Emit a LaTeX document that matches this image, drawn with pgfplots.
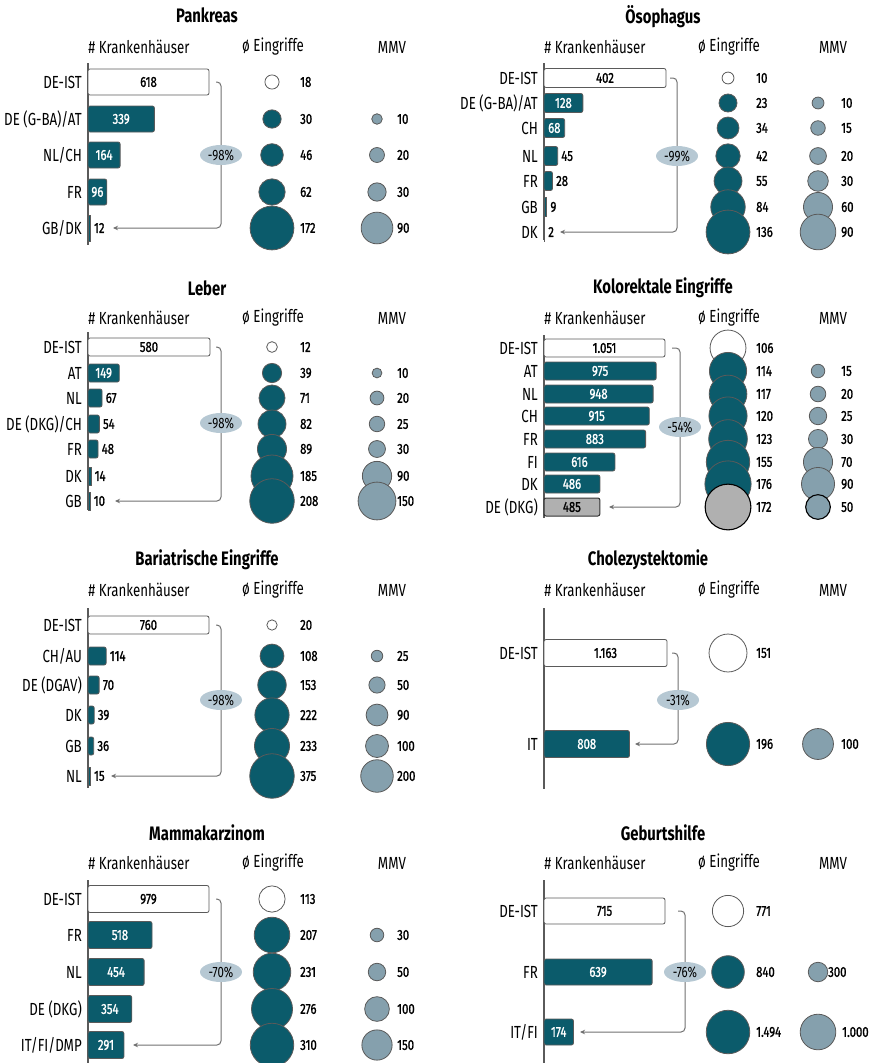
\documentclass[border=0pt]{standalone}
\usepackage{pgfplots}
\pgfplotsset{compat=1.18}
\usepackage{pgfplotstable}
\usepackage{fontspec}
\setmainfont{Fira Sans}[FakeStretch=0.76]
\newfontfamily\valfam{Fira Sans}[FakeStretch=0.78, FakeBold=1.2]
\usetikzlibrary{arrows.meta,shapes.geometric}
\definecolor{tealc}{HTML}{0B5B6B}
\definecolor{mmvc}{HTML}{85A0AD}
\definecolor{ellc}{HTML}{B6C8D3}
\definecolor{bordc}{HTML}{5A5A5A}
\definecolor{greyc}{HTML}{B0B0B0}
\definecolor{arrc}{HTML}{707070}
\newcommand\ttl{\fontsize{19.5bp}{20bp}\selectfont\bfseries}
\newcommand\lbl{\fontsize{17.5bp}{18bp}\selectfont}
\newcommand\val{\valfam\fontsize{14.5bp}{15bp}\selectfont}
\newcommand\pctf{\fontsize{15bp}{15bp}\selectfont}

\pgfplotsset{
 panel/.style={width=877bp, height=1063bp, scale only axis, ymin=0, ymax=1063, y dir=reverse,
   hide axis, clip=false, at={(0,0)}, anchor=south west, unbounded coords=discard},
 lbls/.style={only marks, mark=none, nodes near coords, point meta=explicit symbolic,
   every node near coord/.append style={inner sep=0pt, #1}},
 circ/.style n args={5}{scatter, only marks, mark=*, line width=#5,
   scatter/use mapped color={draw=#2, fill=#1},
   visualization depends on={#3*sqrt(\thisrow{#4}) \as \rad},
   scatter/@pre marker code/.append style={/tikz/mark size=\rad}},
 brk/.style={arrc, line width=1bp, rounded corners=4bp, -{Stealth[length=5bp,width=4.5bp]}},
 vline/.style={bordc, line width=1.1bp},
}
\newcommand\pct[3]{\node[ellipse, fill=ellc, inner sep=0pt, minimum width=42bp, minimum height=20bp, font=\pctf] at (axis cs:#1,#2) {#3};}
\newcommand\heads[5]{%
 \node[font=\ttl] at (axis cs:#1,#2) {#5};
 \node[font=\lbl] at (axis cs:51,#3) {\# Krankenhäuser};
 \node[font=\lbl] at (axis cs:185,#3) {ø Eingriffe};
 \node[font=\lbl] at (axis cs:#4,#3) {MMV};}

% #1 table, #2 axis opts, #3 bar scale, #4 radius factor, #5 bar height, #6 mmv x, #7 mmv label x, #8 extras
\newcommand\panel[8]{%
\begin{axis}[panel,#2]
#8
\addplot[xbar, bar shift=0pt, bar width=#5, draw=bordc, line width=0.8bp, fill=white, rounded corners=2bp,
  restrict expr to domain={\thisrow{t}}{0:0}] table[x expr=\thisrow{n}*#3, y=y]{#1};
\addplot[xbar, bar shift=0pt, bar width=#5, draw=bordc, line width=0.8bp, fill=tealc, rounded corners=2bp,
  restrict expr to domain={\thisrow{t}+10*(\thisrow{n}*#3<5)}{1:1}] table[x expr=\thisrow{n}*#3, y=y]{#1};
\addplot[xbar, bar shift=0pt, bar width=#5, draw=bordc, line width=0.8bp, fill=tealc,
  restrict expr to domain={\thisrow{t}+10*(\thisrow{n}*#3<5)}{11:11}] table[x expr=\thisrow{n}*#3, y=y]{#1};
\addplot[xbar, bar shift=0pt, bar width=#5, draw=black!80, line width=1bp, fill=greyc, rounded corners=2bp,
  restrict expr to domain={\thisrow{t}}{2:2}] table[x expr=\thisrow{n}*#3, y=y]{#1};
\addplot[lbls={anchor=center, text=black, font=\val}, restrict expr to domain={\thisrow{lc}}{0:0}]
  table[x expr=\thisrow{n}*#3/2, y=y, meta=nl]{#1};
\addplot[lbls={anchor=center, text=white, font=\val}, restrict expr to domain={\thisrow{lc}}{1:1}]
  table[x expr=\thisrow{n}*#3/2, y=y, meta=nl]{#1};
\addplot[lbls={anchor=west, text=black, font=\val}, restrict expr to domain={\thisrow{lc}}{2:2}]
  table[x expr=\thisrow{n}*#3+3.5, y=y, meta=nl]{#1};
\addplot[lbls={anchor=east, text=black, font=\lbl}] table[x expr=-6, y=y, meta=lab]{#1};
\addplot[circ={white}{bordc}{#4}{e}{0.8bp}, restrict expr to domain={\thisrow{t}}{0:0}] table[x expr=184, y=y]{#1};
\addplot[circ={tealc}{bordc}{#4}{e}{0.8bp}, restrict expr to domain={\thisrow{t}}{1:1}] table[x expr=184, y=y]{#1};
\addplot[circ={greyc}{black}{#4}{e}{1.1bp}, restrict expr to domain={\thisrow{t}}{2:2}] table[x expr=184, y=y]{#1};
\addplot[lbls={anchor=west, text=black, font=\val}] table[x expr=212, y=y, meta=el]{#1};
\addplot[circ={mmvc}{bordc}{#4}{m}{0.8bp}, restrict expr to domain={\thisrow{mt}}{1:1}] table[x expr=#6, y=y]{#1};
\addplot[circ={mmvc}{black}{#4}{m}{1.1bp}, restrict expr to domain={\thisrow{mt}}{2:2}] table[x expr=#6, y=y]{#1};
\addplot[lbls={anchor=west, text=black, font=\val}, restrict expr to domain={\thisrow{mt}}{1:2}]
  table[x expr={#7}, y=y, meta=ml]{#1};
\end{axis}}

\pgfplotstableread[row sep=\\]{
lab y n nl lc t e el m ml mt\\
DE-IST 82 618 618 0 0 18 18 0 {} 0\\
{DE (G-BA)/AT} 119 339 339 1 1 30 30 10 10 1\\
NL/CH 155 164 164 1 1 46 46 20 20 1\\
FR 192 96 96 1 1 62 62 30 30 1\\
GB/DK 228 12 12 2 1 172 172 90 90 1\\
}\tPank
\pgfplotstableread[row sep=\\]{
lab y n nl lc t e el m ml mt\\
DE-IST 78 402 402 0 0 10 10 0 {} 0\\
{DE (G-BA)/AT} 103 128 128 1 1 23 23 10 10 1\\
CH 128 68 68 1 1 34 34 15 15 1\\
NL 156 45 45 2 1 42 42 20 20 1\\
FR 181 28 28 2 1 55 55 30 30 1\\
GB 207 9 9 2 1 84 84 60 60 1\\
DK 232 2 2 2 1 136 136 90 90 1\\
}\tOeso
\pgfplotstableread[row sep=\\]{
lab y n nl lc t e el m ml mt\\
DE-IST 347 580 580 0 0 12 12 0 {} 0\\
AT 373 149 149 1 1 39 39 10 10 1\\
NL 398 67 67 2 1 71 71 20 20 1\\
{DE (DKG)/CH} 424 54 54 2 1 82 82 25 25 1\\
FR 449 48 48 2 1 89 89 30 30 1\\
DK 476 14 14 2 1 185 185 90 90 1\\
GB 501 10 10 2 1 208 208 150 150 1\\
}\tLeber
\pgfplotstableread[row sep=\\]{
lab y n nl lc t e el m ml mt\\
DE-IST 348 1051 1.051 0 0 106 106 0 {} 0\\
AT 371 975 975 1 1 114 114 15 15 1\\
NL 394 948 948 1 1 117 117 20 20 1\\
CH 416 915 915 1 1 120 120 25 25 1\\
FR 439 883 883 1 1 123 123 30 30 1\\
FI 462 616 616 1 1 155 155 70 70 1\\
DK 484 486 486 1 1 176 176 90 90 1\\
{DE (DKG)} 507 485 485 0 2 172 172 50 50 2\\
}\tKolo
\pgfplotstableread[row sep=\\]{
lab y n nl lc t e el m ml mt\\
DE-IST 625 760 760 0 0 20 20 0 {} 0\\
CH/AU 656 114 114 2 1 108 108 25 25 1\\
{DE (DGAV)} 685 70 70 2 1 153 153 50 50 1\\
DK 715 39 39 2 1 222 222 90 90 1\\
GB 746 36 36 2 1 233 233 100 100 1\\
NL 776 15 15 2 1 375 375 200 200 1\\
}\tBari
\pgfplotstableread[row sep=\\]{
lab y n nl lc t e el m ml mt\\
DE-IST 653 1163 1.163 0 0 151 151 0 {} 0\\
IT 744 808 808 1 1 196 196 100 100 1\\
}\tChol
\pgfplotstableread[row sep=\\]{
lab y n nl lc t e el m ml mt\\
DE-IST 899 979 979 0 0 113 113 0 {} 0\\
FR 935 518 518 1 1 207 207 30 30 1\\
NL 972 454 454 1 1 231 231 50 50 1\\
{DE (DKG)} 1009 354 354 1 1 276 276 100 100 1\\
IT/FI/DMP 1045 291 291 1 1 310 310 150 150 1\\
}\tMamma
\pgfplotstableread[row sep=\\]{
lab y n nl lc t e el m ml mt\\
DE-IST 911 715 715 0 0 771 771 0 {} 0\\
FR 972 639 639 1 1 840 840 300 300 1\\
IT/FI 1032 174 174 1 1 1494 1.494 1000 1.000 1\\
}\tGeb

\begin{document}
\begin{tikzpicture}
\useasboundingbox (0,0) rectangle (877bp,1063bp);
% Pankreas
\panel{\tPank}{xmin=-88,xmax=789}{0.1958}{1.677}{26}{289}{309}{%
 \heads{119}{15}{47}{304}{Pankreas}
 \addplot[vline] coordinates {(0,63) (0,245)};
 \addplot[brk] coordinates {(128,82) (133,82) (133,228) (25,228)};
 \pct{133}{155}{-98\%}}
% Oesophagus
\panel{\tOeso}{xmin=-544,xmax=333}{0.3035}{1.886}{19}{274}{297}{%
 \heads{119}{17}{47}{289}{Ösophagus}
 \addplot[vline] coordinates {(0,63) (0,240)};
 \addplot[brk] coordinates {(126,78) (133,78) (133,232) (16,232)};
 \pct{133}{156}{-99\%}}
% Leber
\panel{\tLeber}{xmin=-88,xmax=789}{0.2103}{1.55}{18}{289}{309}{%
 \heads{119}{288}{318}{304}{Leber}
 \addplot[vline] coordinates {(0,332) (0,510)};
 \addplot[brk] coordinates {(128,347) (133,347) (133,501) (27,501)};
 \pct{133}{423}{-98\%}}
% Kolorektale
\panel{\tKolo}{xmin=-544,xmax=333}{0.1151}{1.75}{18}{274}{297}{%
 \heads{119}{288}{318}{289}{Kolorektale Eingriffe}
 \addplot[vline] coordinates {(0,335) (0,518)};
 \addplot[brk] coordinates {(128,348) (136,348) (136,507) (65,507)};
 \pct{136}{427}{-54\%}}
% Bariatrische
\panel{\tBari}{xmin=-88,xmax=789}{0.1592}{1.154}{18}{289}{309}{%
 \heads{119}{560}{590}{304}{Bariatrische Eingriffe}
 \addplot[vline] coordinates {(0,608) (0,788)};
 \addplot[brk] coordinates {(128,625) (133,625) (133,776) (23,776)};
 \pct{133}{700}{-98\%}}
% Cholezystektomie
\panel{\tChol}{xmin=-544,xmax=333}{0.1058}{1.55}{27}{274}{297}{%
 \heads{104}{560}{590}{289}{Cholezystektomie}
 \addplot[vline] coordinates {(0,608) (0,789)};
 \addplot[brk] coordinates {(128,653) (134,653) (134,744) (91,744)};
 \pct{134}{700}{-31\%}}
% Mammakarzinom
\panel{\tMamma}{xmin=-88,xmax=789}{0.1236}{1.24}{27}{289}{309}{%
 \heads{119}{833}{863}{304}{Mammakarzinom}
 \addplot[vline] coordinates {(0,880) (0,1063)};
 \addplot[brk] coordinates {(128,899) (133,899) (133,1045) (45,1045)};
 \pct{133}{972}{-70\%}}
% Geburtshilfe
\panel{\tGeb}{xmin=-544,xmax=333}{0.1692}{0.565}{26}{274}{\thisrow{m}<500 ? 284 : 298}{%
 \heads{119}{833}{863}{289}{Geburtshilfe}
 \addplot[vline] coordinates {(0,880) (0,1063)};
 \addplot[brk] coordinates {(134,911) (141,911) (141,1032) (36,1032)};
 \pct{141}{972}{-76\%}}
\end{tikzpicture}
\end{document}
